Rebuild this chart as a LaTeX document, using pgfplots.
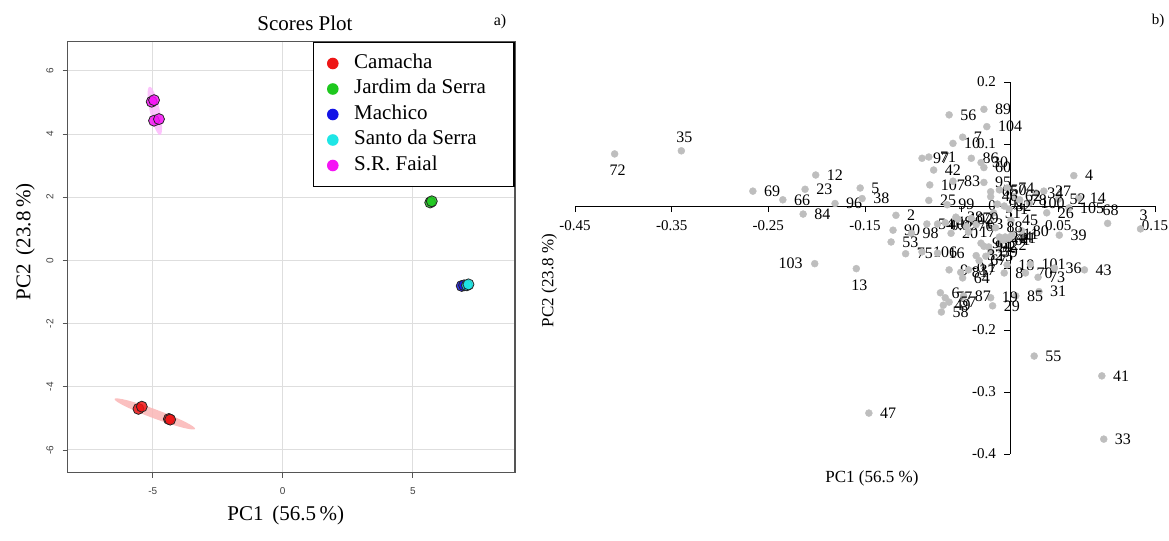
\documentclass[border=0pt]{standalone}
\usepackage{fontspec}
\setmainfont{Liberation Serif}
\newfontfamily\sansf{Liberation Sans}
\usepackage{pgfplots}
\usepackage{pgfplotstable}
\pgfplotsset{compat=1.18}
\newcommand{\fsz}[1]{\fontsize{#1}{#1}\selectfont}

\definecolor{camacha}{RGB}{238,22,22}
\definecolor{jardim}{RGB}{30,200,30}
\definecolor{machico}{RGB}{20,20,230}
\definecolor{santo}{RGB}{30,230,230}
\definecolor{faial}{RGB}{245,20,245}
\definecolor{framegray}{RGB}{85,85,85}
\definecolor{gridgray}{RGB}{222,222,222}
\definecolor{dotgray}{RGB}{190,190,190}

\pgfplotsset{
  loadpt/.style={only marks, mark=*, mark size=3.5bp, color=dotgray,
    nodes near coords, point meta=explicit symbolic},
  scorept/.style={forget plot, only marks, mark=*, mark size=5.5bp,
    mark options={fill=#1, fill opacity=0.85, draw=black!85, line width=0.8bp}},
}

% loadings, label to the right of the point
\pgfplotstableread{
x y lab
-0.266 0.024 69
-0.235 0.010 66
-0.201 0.050 12
-0.212 0.027 23
-0.214 -0.013 84
-0.181 0.004 96
-0.155 0.029 5
-0.153 0.012 38
-0.146 -0.334 47
0.025 -0.242 55
0.095 -0.274 41
0.097 -0.376 33
-0.063 0.147 56
-0.027 0.156 89
-0.024 0.128 104
-0.049 0.111 7
-0.059 0.101 10
-0.091 0.077 97
-0.084 0.079 71
-0.040 0.077 86
-0.030 0.070 30
-0.027 0.062 60
-0.079 0.058 42
-0.083 0.034 107
-0.059 0.040 83
-0.027 0.038 95
-0.084 0.009 25
-0.065 0.002 99
-0.118 -0.015 2
-0.121 -0.039 90
-0.102 -0.044 98
-0.123 -0.058 53
-0.108 -0.077 75
-0.091 -0.074 106
-0.075 -0.076 16
0.066 0.049 4
0.071 0.013 14
0.061 -0.003 105
0.038 -0.011 26
0.050 0.011 52
0.027 0.021 34
0.035 0.024 27
0.020 0.005 100
0.051 -0.047 39
-0.020 0.023 65
-0.011 0.026 50
-0.003 0.029 74
-0.017 -0.011 51
0.001 -0.023 45
-0.003 -0.095 18
-0.006 -0.108 8
0.021 -0.094 101
0.016 -0.108 70
0.029 -0.115 73
0.046 -0.100 36
0.077 -0.103 43
0.030 -0.138 31
0.006 -0.145 85
-0.020 -0.148 19
-0.018 -0.161 29
-0.072 -0.140 6
-0.067 -0.148 77
-0.048 -0.145 87
-0.063 -0.155 57
-0.069 -0.160 49
-0.071 -0.171 58
-0.086 -0.029 54
-0.075 -0.029 40
-0.067 -0.027 48
-0.061 -0.044 20
-0.054 -0.021 102
-0.056 -0.018 28
-0.043 -0.042 17
-0.063 -0.103 9
-0.051 -0.107 81
-0.043 -0.103 37
-0.049 -0.116 64
-0.025 -0.081 15
-0.020 -0.074 59
-0.011 -0.063 22
-0.030 -0.060 93
-0.027 -0.065 94
-0.022 -0.066 92
-0.011 -0.050 24
-0.005 -0.050 44
-0.001 -0.052 21
-0.007 -0.055 61
0.002 -0.046 11
-0.013 0.003 91
-0.006 0.000 82
-0.001 -0.005 1
0.004 0.015 62
-0.035 -0.030 63
-0.032 -0.088 67
-0.035 -0.080 32
-0.020 0.015 46
-0.045 -0.033 76
0.010 0.010 78
-0.040 -0.020 79
0.012 -0.040 80
-0.015 -0.035 88
}\ptsright

% loadings, label above the point
\pgfplotstableread{
x y lab
-0.340 0.089 35
0.101 -0.028 68
0.135 -0.037 3
}\ptsabove

% loadings, label below the point
\pgfplotstableread{
x y lab
-0.409 0.084 72
-0.159 -0.101 13
}\ptsbelow

% loadings, label left of the point
\pgfplotstableread{
x y lab
-0.202 -0.093 103
}\ptsleft

\begin{document}
\begin{tikzpicture}

% ---------------- a) scores plot ----------------
\begin{axis}[
  at={(67.7bp,68.3bp)}, anchor=south west,
  scale only axis, width=447.3bp, height=431bp,
  xmin=-8.27, xmax=8.93, ymin=-6.72, ymax=6.92,
  axis line style={framegray, line width=1.3bp},
  grid=major, grid style={gridgray, line width=0.9bp},
  xtick={-5,0,5}, xticklabels={-5,0,5},
  ytick={-6,-4,-2,0,2,4,6}, yticklabels={-6,-4,-2,0,2,4,6},
  xtick pos=bottom, ytick pos=left,
  tick align=outside, major tick length=5bp,
  tick style={framegray, line width=0.8bp},
  ticklabel style={font=\sansf\fsz{10bp}, text=black!75, inner sep=0bp},
  xticklabel shift=10bp,
  yticklabel style={rotate=90, anchor=south},
  yticklabel shift=9bp,
  title={Scores Plot},
  title style={at={(axis description cs:0.5305,1.012)}, anchor=base, font=\fsz{21bp}},
  xlabel={PC1\ \,(56.5\,\%)},
  xlabel style={at={(axis description cs:0.4874,-0.1104)}, anchor=base, font=\fsz{21bp}},
  ylabel={PC2\ \,(23.8\,\%)},
  ylabel style={at={(axis description cs:-0.0834,0.536)}, anchor=base, font=\fsz{21bp}},
  legend image code/.code={\path[fill=none, draw=none] (0bp,-5bp) rectangle (30bp,5bp);
    \fill[#1] (19.3bp,0bp) circle (5.8bp);},
  legend style={at={(1,1)}, anchor=north east, draw=black, line width=1.6bp, fill=white,
    font=\fsz{21bp}, inner xsep=0bp, inner ysep=11bp, row sep=5.5bp, column sep=10.7bp,
    nodes={inner sep=0bp, text height=15bp, text depth=5bp}},
  legend cell align=left,
  clip=false,
]
% confidence regions
\fill[camacha!32, opacity=0.85, rotate around={-20.4:(axis cs:-4.92,-4.86)}]
  (axis cs:-4.92,-4.86) ellipse [x radius=43bp, y radius=4.5bp];
\fill[faial!30, opacity=0.85, rotate around={-77.5:(axis cs:-4.92,4.73)}]
  (axis cs:-4.92,4.73) ellipse [x radius=24.7bp, y radius=5bp];

\addplot[scorept=camacha]
  coordinates {(-5.55,-4.70) (-5.42,-4.63) (-4.38,-5.02) (-4.33,-5.04)};
\addplot[scorept=jardim]
  coordinates {(5.67,1.83) (5.73,1.87)};
\addplot[scorept=machico]
  coordinates {(6.88,-0.81) (6.97,-0.79)};
\addplot[scorept=santo]
  coordinates {(7.08,-0.79) (7.14,-0.76)};
\addplot[scorept=faial]
  coordinates {(-5.04,5.02) (-4.95,5.07) (-4.95,4.42) (-4.76,4.47)};

\addlegendimage{fill=camacha, draw=none}
\addlegendentry{\makebox[160bp][l]{Camacha}}
\addlegendimage{fill=jardim, draw=none}
\addlegendentry{\makebox[160bp][l]{Jardim da Serra}}
\addlegendimage{fill=machico, draw=none}
\addlegendentry{\makebox[160bp][l]{Machico}}
\addlegendimage{fill=santo, draw=none}
\addlegendentry{\makebox[160bp][l]{Santo da Serra}}
\addlegendimage{fill=faial, draw=none}
\addlegendentry{\makebox[160bp][l]{S.R. Faial}}
\end{axis}
\node[font=\fsz{16bp}] at (500bp,519bp) {a)};

% ---------------- b) loadings plot ----------------
\begin{axis}[
  at={(575bp,87bp)}, anchor=south west,
  scale only axis, width=580bp, height=372bp,
  xmin=-0.45, xmax=0.15, ymin=-0.4, ymax=0.2,
  axis lines=middle, axis line style={-, black, line width=0.9bp},
  xtick={-0.45,-0.35,-0.25,-0.15,-0.05,0.05,0.15},
  xticklabels={-0.45,-0.35,-0.25,-0.15,-0.05,0.05,0.15},
  ytick={-0.4,-0.3,-0.2,-0.1,0,0.1,0.2},
  yticklabels={-0.4,-0.3,-0.2,-0.1,0,0.1,0.2},
  hide obscured x ticks=false, hide obscured y ticks=false,
  tick align=outside, major tick length=6bp,
  tick style={black, line width=0.9bp},
  ticklabel style={font=\fsz{15bp}, inner sep=0bp},
  xticklabel shift=8bp, yticklabel shift=8bp,
  xlabel={PC1 (56.5 \%)},
  xlabel style={at={(axis description cs:0.512,-0.076)}, anchor=base, font=\fsz{17bp}},
  ylabel={PC2 (23.8 \%)},
  ylabel style={at={(axis description cs:-0.0374,0.466)}, anchor=base, rotate=90, font=\fsz{17bp}},
  clip=false,
]
\addplot[loadpt, every node near coord/.append style={anchor=west, xshift=11bp, inner sep=0bp, font=\fsz{16bp}, text=black}]
  table[meta=lab] {\ptsright};
\addplot[loadpt, every node near coord/.append style={anchor=south, xshift=3bp, yshift=8bp, inner sep=0bp, font=\fsz{16bp}, text=black}]
  table[meta=lab] {\ptsabove};
\addplot[loadpt, every node near coord/.append style={anchor=north, xshift=3bp, yshift=-11bp, inner sep=0bp, font=\fsz{16bp}, text=black}]
  table[meta=lab] {\ptsbelow};
\addplot[loadpt, every node near coord/.append style={anchor=east, xshift=-12bp, inner sep=0bp, font=\fsz{16bp}, text=black}]
  table[meta=lab] {\ptsleft};
\end{axis}
\node[font=\fsz{15bp}] at (1158bp,520bp) {b)};

% page frame of the whole figure
\pgfresetboundingbox
\useasboundingbox (0bp,0bp) rectangle (1169bp,541bp);
\end{tikzpicture}
\end{document}
